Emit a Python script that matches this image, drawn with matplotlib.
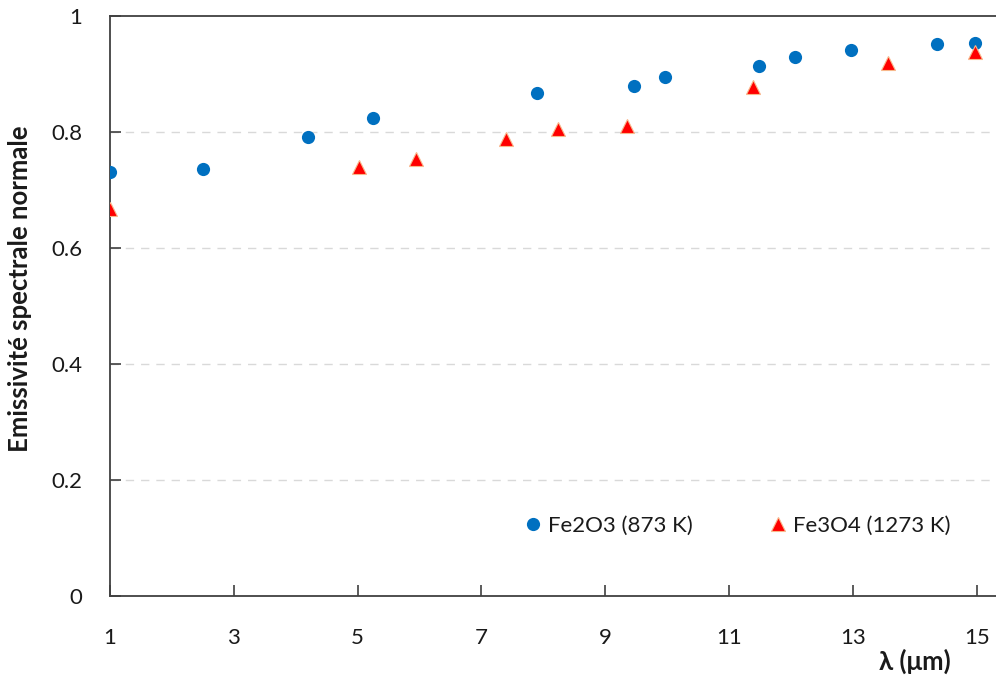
import matplotlib.pyplot as plt

plt.rcParams["font.family"] = ["Lato", "DejaVu Sans"]

# Fe2O3 (873 K)
x_fe2o3 = [1.0, 2.5, 4.2, 5.25, 7.9, 9.47, 9.97, 11.48, 12.06, 12.97, 14.36, 14.97]
y_fe2o3 = [0.731, 0.736, 0.792, 0.824, 0.868, 0.879, 0.894, 0.914, 0.930, 0.942, 0.951, 0.953]

# Fe3O4 (1273 K)
x_fe3o4 = [1.0, 5.02, 5.95, 7.4, 8.24, 9.35, 11.38, 13.57, 14.97]
y_fe3o4 = [0.668, 0.740, 0.753, 0.788, 0.806, 0.811, 0.878, 0.919, 0.938]

x_ticks = [1, 3, 5, 7, 9, 11, 13, 15]
y_ticks = [0, 0.2, 0.4, 0.6, 0.8, 1]
y_tick_labels = ["0", "0.2", "0.4", "0.6", "0.8", "1"]

fig = plt.figure(figsize=(9.96, 6.78), dpi=100)
ax = fig.add_axes([110 / 996, 82 / 678, 886 / 996, 580 / 678])

ax.plot(x_fe2o3, y_fe2o3, "o", color="#0070C0", markersize=9.5,
        markeredgewidth=0, label="Fe2O3 (873 K)", zorder=3)
ax.plot(x_fe3o4, y_fe3o4, "^", color="#FF0000", markersize=10,
        markeredgecolor="#F8B88B", markeredgewidth=0.8,
        label="Fe3O4 (1273 K)", zorder=4)

# axes et grille
ax.set_xlim(1, 1 + 886 / 61.9)
ax.set_ylim(0, 1)
ax.set_xticks(x_ticks)
ax.set_yticks(y_ticks)
ax.set_yticklabels(y_tick_labels)
ax.tick_params(direction="in", length=8, width=1.2, color="#404040",
               labelsize=16, labelcolor="#1a1a1a")
ax.tick_params(axis="x", pad=23)
ax.tick_params(axis="y", pad=20)
for side in ["left", "bottom", "top"]:
    ax.spines[side].set_color("#404040")
    ax.spines[side].set_linewidth(1.3)
ax.spines["right"].set_visible(False)

for yv in y_ticks[1:-1]:
    ax.axhline(yv, color="#D9D9D9", linewidth=1, linestyle=(0, (6, 5)), zorder=1)

ax.set_ylabel("Emissivité spectrale normale", fontsize=18.5, fontweight="bold",
              color="#1a1a1a")
ax.yaxis.set_label_coords(-0.088, 0.53)
ax.set_xlabel("λ (μm)", fontsize=18.5, fontweight="bold", color="#1a1a1a")
ax.xaxis.set_label_coords((915 - 110) / 886, -0.09)

ax.legend(loc="center", bbox_to_anchor=((735 - 110) / 886, (596 - 526) / 580),
          ncol=2, frameon=False, fontsize=16, handletextpad=0.1,
          columnspacing=3.2, handlelength=1.2, labelcolor="#1a1a1a")

fig.savefig("out.png", dpi=100)
